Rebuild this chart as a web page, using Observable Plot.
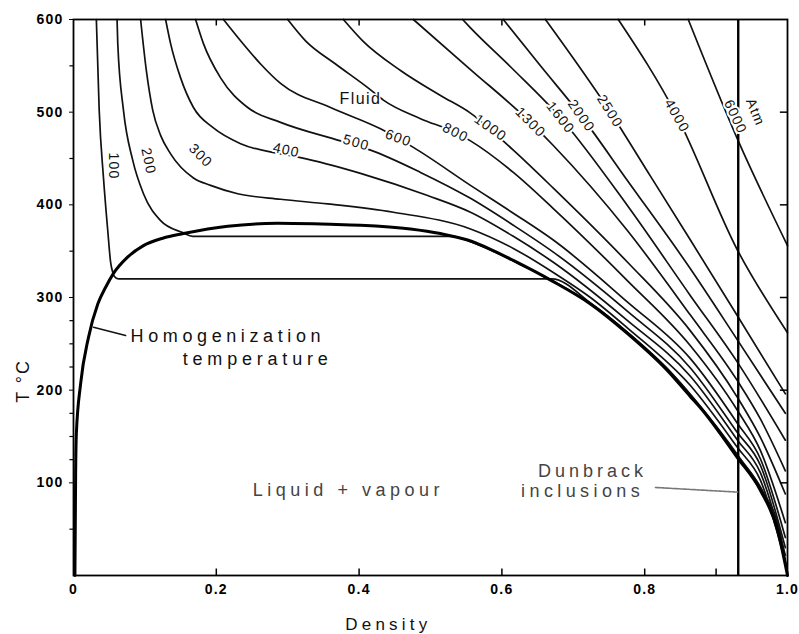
<!DOCTYPE html>
<html><head><meta charset="utf-8">
<script src="https://cdn.jsdelivr.net/npm/d3@7"></script>
<script src="https://cdn.jsdelivr.net/npm/@observablehq/plot@0.6"></script>
<style>body{margin:0;background:#fff}#chart svg{display:block}</style>
</head><body><div id="chart"></div>
<script>
// ---- data (density g/cc, temperature °C) ----
const pressures = ["100","200","300","400","500","600","800","1000","1300","1600","2000","2500","4000","6000"];
const iso100 = [[0.032,600],[0.036,502],[0.042,429],[0.048,372],[0.052,338],[0.055,327],[0.057,323],[0.063,320],[0.670,320],[0.726,293],[0.778,261],[0.834,221],[0.866,193],[0.932,127],[0.964,92],[0.988,49],[1.0,1]];
const iso200 = [[0.061,600],[0.062,574],[0.070,502],[0.083,448],[0.098,412],[0.122,383],[0.153,370],[0.167,366],[0.530,366],[0.560,359],[0.590,349],[0.622,337],[0.676,316],[0.729,291],[0.781,259],[0.837,219],[0.869,191],[0.935,125],[0.966,90],[0.989,48],[1.0,3]];
const iso300 = [[0.094,600],[0.102,545],[0.111,502],[0.122,475],[0.136,455],[0.168,429],[0.192,421],[0.230,412],[0.290,406],[0.356,401],[0.448,392],[0.556,374],[0.616,353],[0.672,327],[0.724,300],[0.776,267],[0.864,205],[0.930,138],[0.962,103],[0.997,14]];
const iso400 = [[0.129,600],[0.136,574],[0.150,537],[0.168,505],[0.196,483],[0.234,466],[0.290,455],[0.318,451],[0.402,434],[0.496,410],[0.556,392],[0.616,366],[0.672,338],[0.776,275],[0.864,215],[0.930,146],[0.962,111],[0.997,22]];
const iso500 = [[0.171,600],[0.182,574],[0.206,537],[0.244,505],[0.290,489],[0.374,469],[0.416,459],[0.486,435],[0.556,407],[0.616,378],[0.672,349],[0.776,285],[0.864,224],[0.930,154],[0.962,119],[0.997,30]];
const iso600 = [[0.210,600],[0.234,577],[0.262,552],[0.290,531],[0.360,505],[0.430,482],[0.476,462],[0.556,421],[0.616,391],[0.672,362],[0.776,295],[0.864,234],[0.930,164],[0.962,126],[0.997,41]];
const iso800 = [[0.300,600],[0.325,577],[0.367,552],[0.413,526],[0.434,513],[0.486,493],[0.535,478],[0.556,469],[0.616,435],[0.672,396],[0.776,318],[0.864,248],[0.930,178],[0.962,135],[0.997,57]];
const iso1000 = [[0.378,600],[0.405,577],[0.458,545],[0.514,518],[0.556,499],[0.616,459],[0.672,418],[0.776,338],[0.864,264],[0.930,192],[0.962,149],[0.997,88]];
const iso1300 = [[0.476,600],[0.556,546],[0.640,489],[0.672,464],[0.776,372],[0.864,281],[0.930,210],[0.962,169],[0.997,113]];
const iso1600 = [[0.545,600],[0.556,591],[0.612,549],[0.682,494],[0.776,399],[0.864,302],[0.930,230],[0.997,146]];
const iso2000 = [[0.602,600],[0.654,550],[0.711,496],[0.776,426],[0.864,331],[0.930,254],[0.997,175]];
const iso2500 = [[0.661,600],[0.751,501],[0.808,431],[0.864,362],[0.930,280],[0.997,196]];
const iso4000 = [[0.763,600],[0.845,496],[0.930,351],[1.0,262]];
const iso6000 = [[0.861,600],[0.931,469],[1.0,356]];
const isobars = [iso100,iso200,iso300,iso400,iso500,iso600,iso800,iso1000,iso1300,iso1600,iso2000,iso2500,iso4000,iso6000];

// homogenization (liquid-vapour) curve
const dome = [[0.002,0],[0.003,110],[0.004,153],[0.010,207],[0.021,257],[0.034,293],[0.045,311],[0.056,326],[0.075,343],[0.098,356],[0.125,364],[0.154,369],[0.216,377],[0.286,380],[0.360,379],[0.402,378],[0.472,374],[0.514,369],[0.552,362],[0.584,352],[0.616,340],[0.670,318],[0.724,293],[0.776,261],[0.832,221],[0.864,193],[0.878,181],[0.930,127],[0.962,92],[0.986,49],[1.0,0]];

// Dunbrack inclusions density
const dunbrackDensity = 0.931;

// isobar labels
const labelText  = ["100","200","300","400","500","600","800","1000","1300","1600","2000","2500","4000","6000","Atm"];
const labelD     = [0.056,0.105,0.178,0.298,0.396,0.455,0.535,0.584,0.640,0.682,0.711,0.751,0.845,0.927,0.955];
const labelT     = [442,447,453,459,467,472,478,483,489,494,496,501,496,495,500];
const labelAngle = [90,78,45,12,16,20,27,35,45,52,55,58,60,65,68];

// annotations
const noteText   = ["Homogenization","temperature","Liquid + vapour","Dunbrack","inclusions","Fluid"];
const noteD      = [0.080,0.153,0.385,0.727,0.713,0.431];
const noteT      = [258,233,92,113,91,514];
const noteAnchor = ["start","start","middle","middle","middle","end"];
const noteColor  = ["#111","#111","#444","#444","#444","#111"];
const noteSize   = [18,18,18,18,18,16];
const homLeader = [[0.028,268],[0.073,259]];
const dunbrackLeader = [[0.815,95],[0.930,90]];

// axes
const xTicks = [0,0.2,0.4,0.6,0.8,1.0];
const xTickLabels = ["0","0.2","0.4","0.6","0.8","1.0"];
const xInnerTicks = [0.2,0.4,0.6,0.8,0.9];
const xTopTicks = [0.2,0.4,0.6,0.8];
const yTicks = [100,200,300,400,500,600];
const yMinorTicks = [50,125,150,175,225,250,275,350,450,550];
const yRightTicks = [100,200,300,400,500];
const xTitle = "Density";
const yTitle = "T °C";

// ---- build ----
const isoRows = [];
isobars.forEach((pts, i) => pts.forEach(([d, T]) => isoRows.push({p: pressures[i], d, T})));
const domeRows = dome.map(([d, T]) => ({d, T}));
const toRows = a => a.map(([d, T]) => ({d, T}));

const marks = [
  Plot.line(isoRows, {x: "d", y: "T", z: "p", stroke: "#111", strokeWidth: 1.7, curve: "monotone-x"}),
  Plot.line(domeRows, {x: "d", y: "T", stroke: "#000", strokeWidth: 3, curve: "monotone-x"}),
  Plot.ruleX([dunbrackDensity], {y1: 0, y2: 600, stroke: "#000", strokeWidth: 2.4}),
  Plot.line(toRows(homLeader), {x: "d", y: "T", stroke: "#111", strokeWidth: 1.5}),
  Plot.line(toRows(dunbrackLeader), {x: "d", y: "T", stroke: "#777", strokeWidth: 1.6, strokeDasharray: "2,1"}),
  Plot.ruleX(xInnerTicks, {y1: 0, y2: 7, stroke: "#000", strokeWidth: 1.5}),
  Plot.ruleX(xTopTicks, {y1: 593, y2: 600, stroke: "#000", strokeWidth: 1.5}),
  Plot.ruleY(yRightTicks, {x1: 0.99, x2: 1.0, stroke: "#000", strokeWidth: 1.5}),
  Plot.ruleY(yMinorTicks, {x1: -0.005, x2: 0, stroke: "#000", strokeWidth: 1.2})
];
labelText.forEach((t, i) => {
  marks.push(Plot.text([t], {x: () => labelD[i], y: () => labelT[i], text: d => d, rotate: labelAngle[i],
    fontSize: 14, fontWeight: "normal", fill: "#111", stroke: "white", strokeWidth: 4, paintOrder: "stroke"}));
});
noteText.forEach((t, i) => {
  marks.push(Plot.text([t], {x: () => noteD[i], y: () => noteT[i], text: d => d, textAnchor: noteAnchor[i],
    fontSize: noteSize[i], fontWeight: "normal", fill: noteColor[i], stroke: "white", strokeWidth: 3, paintOrder: "stroke"}));
});
marks.push(Plot.text([xTitle], {x: () => 0.441, y: () => -53, text: d => d, fontSize: 17, fontWeight: "normal", fill: "#111"}));
marks.push(Plot.text([yTitle], {x: () => -0.071, y: () => 210, text: d => d, rotate: -90, fontSize: 18, fontWeight: "normal", fill: "#111"}));
marks.push(Plot.frame({stroke: "#000", strokeWidth: 1.8}));

const chart = Plot.plot({
  width: 799, height: 634,
  marginLeft: 73, marginRight: 12, marginTop: 19, marginBottom: 59,
  x: {domain: [0, 1], ticks: xTicks, tickFormat: (d) => xTickLabels[xTicks.indexOf(d)], tickSize: 0, tickPadding: 9, label: null},
  y: {domain: [0, 600], ticks: yTicks, tickSize: 4, tickPadding: 6, label: null},
  style: {fontFamily: "'Liberation Sans', Arial, sans-serif", fontSize: "14px", fontWeight: "bold", background: "white", color: "#000", overflow: "visible"},
  marks
});
document.getElementById("chart").appendChild(chart);

const spacing = {"Homogenization": 4.6, "temperature": 4.8, "Liquid + vapour": 4.5, "Dunbrack": 4, "inclusions": 4.4, "Density": 4.2, "Fluid": 1.4, "T °C": 2};
d3.select(chart).selectAll("text").each(function () {
  const t = this.textContent;
  if (spacing[t] !== undefined) this.setAttribute("letter-spacing", spacing[t]);
  else if (/^[0-9.]+$/.test(t) || t === "Atm") this.setAttribute("letter-spacing", 1.2);
  if (this.getAttribute("stroke") === "white" || this.closest("[stroke=white]")) this.setAttribute("paint-order", "stroke");
});
</script></body></html>
